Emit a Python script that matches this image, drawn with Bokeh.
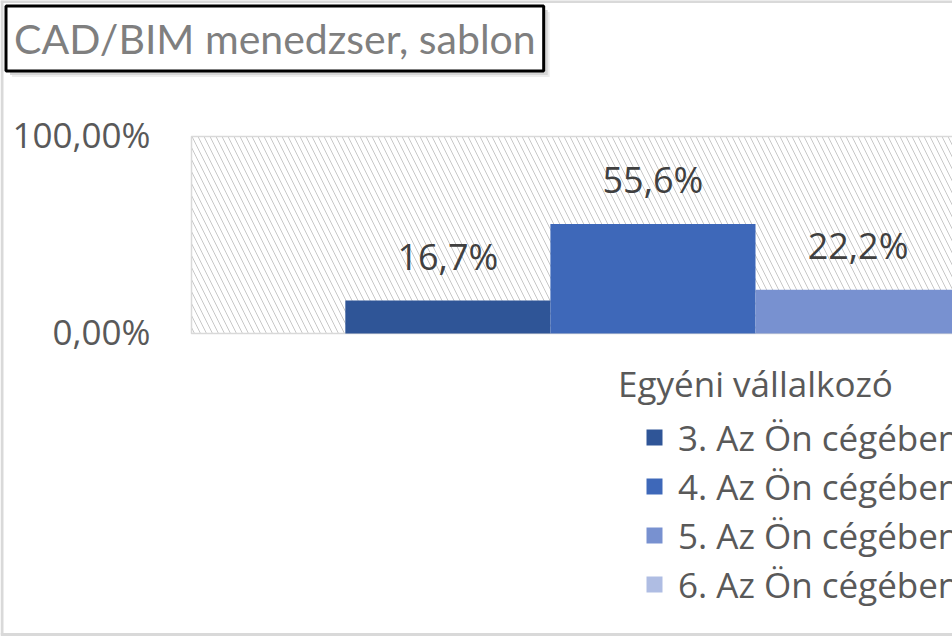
from bokeh.plotting import figure
from bokeh.models import (Range1d, Label, Legend, LegendItem, ColumnDataSource)
from bokeh.core.properties import value
from bokeh.embed import file_html
from bokeh.resources import INLINE

# ---------------- data ----------------
title_text = "CAD/BIM menedzser, sablon"
category = "Egyéni vállalkozó"
series = ["3. Az Ön cégében", "4. Az Ön cégében", "5. Az Ön cégében", "6. Az Ön cégében"]
values = [0.167, 0.556, 0.222, 0.056]
value_labels = ["16,7%", "55,6%", "22,2%", "5,6%"]
y_ticks = [0.0, 1.0]
y_tick_labels = ["0,00%", "100,00%"]

# ---------------- style ----------------
colors = ["#2F5597", "#3E68B9", "#7891D0", "#AFBDE3"]
gap_width = 1.5
W, H = 952, 638
PLOT_LEFT_PX = 191      # left edge of plot area (px from canvas left)
ZERO_PX = 333           # y=0 line (px from canvas top)
PX_PER_CAT = 1128.0
PX_PER_UNIT_Y = 197.0
FONT = "Open Sans"

bar_w = 1.0 / (len(series) + gap_width)
centers = [-0.5 + gap_width / 2 * bar_w + (k + 0.5) * bar_w for k in range(len(series))]

x0 = -0.5 - PLOT_LEFT_PX / PX_PER_CAT
y0 = -(H - ZERO_PX) / PX_PER_UNIT_Y


def px_x(px):
    return x0 + px / PX_PER_CAT


def px_y(py):
    return y0 + (H - py) / PX_PER_UNIT_Y


p = figure(width=W, height=H,
           x_range=Range1d(x0, px_x(W)),
           y_range=Range1d(y0, px_y(0)),
           output_backend="svg", toolbar_location=None,
           x_axis_type=None, y_axis_type=None,
           min_border=0, min_border_left=0, min_border_right=0,
           min_border_top=0, min_border_bottom=0)
p.outline_line_color = None
p.background_fill_color = "white"
p.border_fill_color = "white"
p.xgrid.visible = False
p.ygrid.visible = False

# outer chart border (light grey, left / top / bottom)
p.segment(x0=[px_x(1.5), px_x(0), px_x(0)], y0=[px_y(0), px_y(1), px_y(634)],
          x1=[px_x(1.5), px_x(W), px_x(W)], y1=[px_y(634), px_y(1), px_y(634)],
          line_color="#D9D9D9", line_width=3)

# plot area (hatched)
p.quad(left=[-0.5], right=[2.0], bottom=[0.0], top=[1.0],
       fill_color="white", line_color="#D9D9D9", line_width=1.5,
       hatch_pattern="\\", hatch_color="#C8C8C8", hatch_weight=1, hatch_scale=12)

# y tick labels (value axis)
tsrc = ColumnDataSource(dict(x=[-0.5] * len(y_ticks), y=y_ticks, t=y_tick_labels))
p.text(x="x", y="y", text="t", source=tsrc, text_align="right", text_baseline="middle",
       x_offset=-41, y_offset=-2, text_font=value(FONT), text_font_size="35px",
       text_color="#595959")

# category label
p.text(x=[0.0], y=[0.0], text=[category], text_align="center", text_baseline="middle",
       y_offset=50, text_font=value(FONT), text_font_size="35px", text_color="#595959")

items = []
for k, name in enumerate(series):
    src = ColumnDataSource(dict(x=[centers[k]], top=[values[k]], lab=[value_labels[k]]))
    r = p.vbar(x="x", top="top", bottom=0, width=bar_w, source=src,
               fill_color=colors[k], line_color=None)
    p.text(x="x", y="top", text="lab", source=src, text_align="center",
           text_baseline="middle", y_offset=-44, text_font=value(FONT),
           text_font_size="36px", text_color="#404040")
    items.append(LegendItem(label=name, renderers=[r]))

legend = Legend(items=items, location=(644, 30), padding=0, margin=0,
                border_line_color=None, background_fill_alpha=0,
                glyph_width=20, glyph_height=20, label_height=48, spacing=1,
                label_standoff=14, label_text_font=FONT,
                label_text_font_size="35px", label_text_color="#595959")
p.add_layout(legend, "center")

# title box with soft shadow
tx, ty = 5.5, H - 5.5
for off, col in [(6, "#EDEDED"), (4, "#D6D6D6")]:
    shadow = Label(x=tx + off, y=ty - off, x_units="screen", y_units="screen",
                   text=title_text, text_font="Lato", text_font_size="41px",
                   text_color=col, text_baseline="top", text_align="left", padding=8,
                   background_fill_color=col, border_line_color=None)
    p.add_layout(shadow)
title = Label(x=tx, y=ty, x_units="screen", y_units="screen", text=title_text,
              text_font="Lato", text_font_size="41px", text_color="#7F7F7F",
              text_baseline="top", text_align="left", padding=8,
              background_fill_color="white", border_line_color="black",
              border_line_width=3)
p.add_layout(title)

open("out.html", "w").write(file_html(p, INLINE))
